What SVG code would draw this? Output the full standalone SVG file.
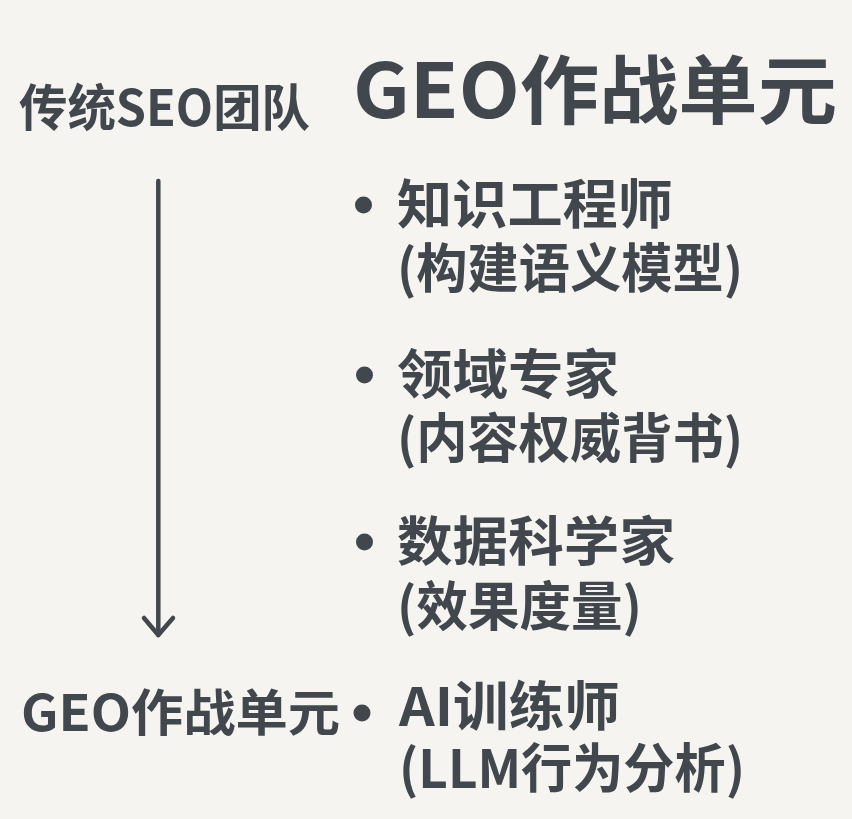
<svg xmlns="http://www.w3.org/2000/svg" width="852" height="819" viewBox="0 0 852 819">
<style>
text{font-family:"Noto Sans CJK SC","Noto Sans",sans-serif;font-weight:700;fill:#41474c}
.item{font-size:53px}
.lbl{font-size:50px}
.ttl{font-size:75px}
.bul{fill:#41474c}
.conn{stroke:#41474c;stroke-width:4.5;fill:none;stroke-linecap:round;stroke-linejoin:round}
</style>
<rect width="852" height="819" fill="#f5f4f0"/>
<g id="connectors">
<line class="conn" x1="158.3" y1="181" x2="158.3" y2="635"/>
<polyline class="conn" points="144,618 158.3,635 173,618"/>
</g>
<g id="node-traditional"><text class="lbl" x="19" y="126" textLength="291" lengthAdjust="spacingAndGlyphs">传统SEO团队</text></g>
<g id="node-title"><text class="ttl" x="353" y="118" textLength="484" lengthAdjust="spacingAndGlyphs">GEO作战单元</text></g>
<g id="node-geo"><text class="lbl" x="21" y="731" textLength="319" lengthAdjust="spacingAndGlyphs">GEO作战单元</text></g>
<g id="node-knowledge">
<circle class="bul" cx="363.5" cy="205" r="8.5"/>
<text class="item" x="397" y="224" textLength="276" lengthAdjust="spacingAndGlyphs">知识工程师</text>
<text class="item" x="397" y="288" textLength="346" lengthAdjust="spacingAndGlyphs">(构建语义模型)</text>
</g>
<g id="node-domain">
<circle class="bul" cx="364.5" cy="375" r="8.5"/>
<text class="item" x="397" y="394" textLength="222" lengthAdjust="spacingAndGlyphs">领域专家</text>
<text class="item" x="397" y="458" textLength="346" lengthAdjust="spacingAndGlyphs">(内容权威背书)</text>
</g>
<g id="node-data">
<circle class="bul" cx="364.5" cy="542" r="8.5"/>
<text class="item" x="397" y="561" textLength="278" lengthAdjust="spacingAndGlyphs">数据科学家</text>
<text class="item" x="397" y="626" textLength="245" lengthAdjust="spacingAndGlyphs">(效果度量)</text>
</g>
<g id="node-ai">
<circle class="bul" cx="362" cy="713" r="8.5"/>
<text class="item" x="399" y="726" textLength="221" lengthAdjust="spacingAndGlyphs">AI训练师</text>
<text class="item" x="399" y="788" textLength="346" lengthAdjust="spacingAndGlyphs">(LLM行为分析)</text>
</g>
</svg>
